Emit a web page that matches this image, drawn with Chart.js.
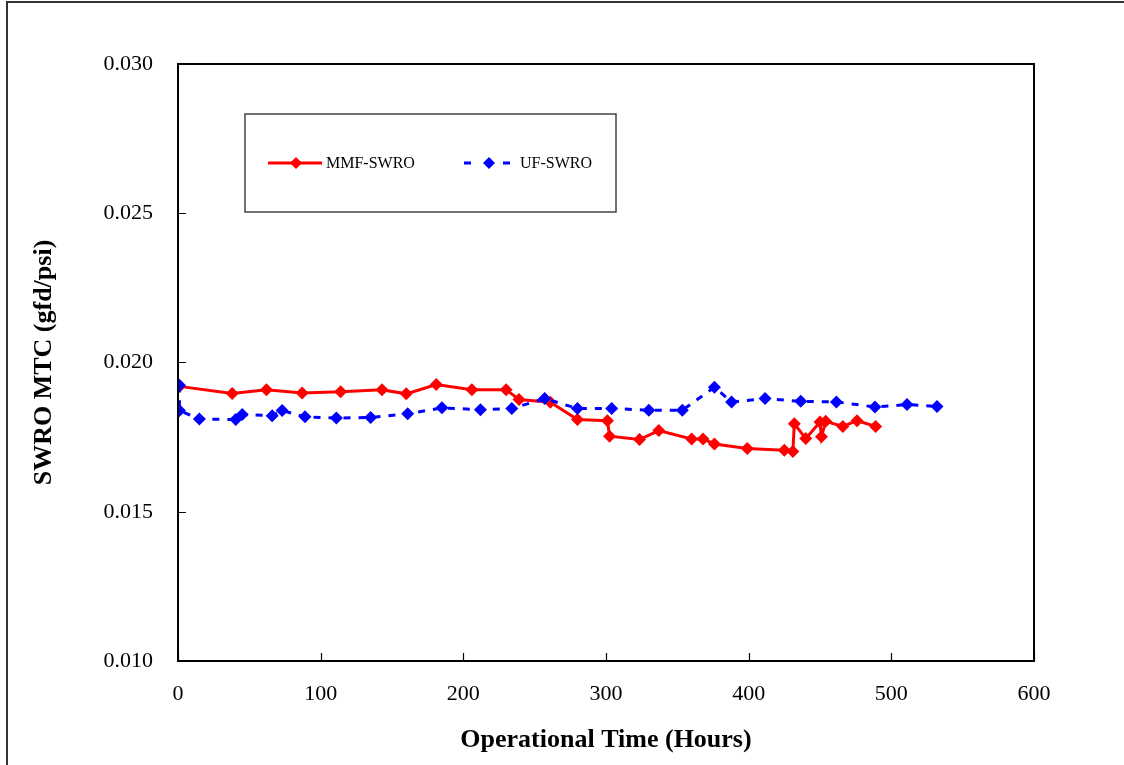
<!DOCTYPE html>
<html>
<head>
<meta charset="utf-8">
<script src="https://cdn.jsdelivr.net/npm/chart.js@4/dist/chart.umd.min.js"></script>
<style>
  html, body { margin: 0; padding: 0; background: #fff; }
  #wrap { width: 1124px; height: 765px; }
</style>
</head>
<body>
<div id="wrap"><canvas id="mtcChart" width="1124" height="765"></canvas></div>
<script>
// data
const mmfHours = [1, 38, 62, 87, 114, 143, 160, 181, 206, 230, 239, 261, 280, 301, 302.5, 323.5, 337, 360, 368, 376, 399, 425, 431, 432, 440, 450, 451, 454, 466, 476, 489];
const mmfMtc = [0.0192, 0.01896, 0.01909, 0.01898, 0.01902, 0.01909, 0.01895, 0.01926, 0.01909, 0.01909, 0.01876, 0.01867, 0.01809, 0.01805, 0.01753, 0.01742, 0.01772, 0.01744, 0.01744, 0.01727, 0.01712, 0.01706, 0.01702, 0.01795, 0.01745, 0.01801, 0.01751, 0.01803, 0.01786, 0.01805, 0.01786];
const ufHours = [1, 1, 15, 40.5, 45, 66, 73, 89, 111, 135, 161, 185, 212, 234, 257, 280, 304, 330, 353.5, 376, 388, 411.5, 436.5, 461.5, 488.5, 511, 532];
const ufMtc = [0.01924, 0.01839, 0.01811, 0.01809, 0.01826, 0.01822, 0.01839, 0.01818, 0.01814, 0.01816, 0.01828, 0.01848, 0.01842, 0.01846, 0.01879, 0.01846, 0.01846, 0.0184, 0.0184, 0.01917, 0.01868, 0.01879, 0.0187, 0.01868, 0.01851, 0.01859, 0.01853];
const xTicks = [0, 100, 200, 300, 400, 500, 600];
const yTicks = [0.010, 0.015, 0.020, 0.025, 0.030];
const seriesNames = ['MMF-SWRO', 'UF-SWRO'];

const RED = '#ff0000';
const BLUE = '#0000ff';
const FONT = '"Liberation Serif", "Times New Roman", serif';

function toPoints(xs, ys) {
  return xs.map(function (x, i) { return { x: x, y: ys[i] }; });
}

// frame, plot box, inward ticks and the boxed legend
const decorPlugin = {
  id: 'decor',
  afterDraw: function (chart) {
    const ctx = chart.ctx;
    const a = chart.chartArea;
    const xs = chart.scales.x, ys = chart.scales.y;
    ctx.save();

    // outer frame (left + top)
    ctx.strokeStyle = '#333';
    ctx.lineWidth = 2;
    ctx.beginPath();
    ctx.moveTo(7, 765);
    ctx.lineTo(7, 2);
    ctx.lineTo(1124, 2);
    ctx.stroke();

    // plot box
    ctx.strokeStyle = '#000';
    ctx.lineWidth = 2;
    ctx.strokeRect(a.left, a.top, a.right - a.left, a.bottom - a.top);

    // tick marks pointing inside
    ctx.lineWidth = 1.2;
    ctx.beginPath();
    yTicks.forEach(function (v) {
      const py = Math.round(ys.getPixelForValue(v)) + 0.5;
      ctx.moveTo(a.left, py);
      ctx.lineTo(a.left + 8, py);
    });
    xTicks.forEach(function (v) {
      const px = Math.round(xs.getPixelForValue(v)) + 0.5;
      ctx.moveTo(px, a.bottom);
      ctx.lineTo(px, a.bottom - 8);
    });
    ctx.stroke();

    // legend box
    const bx = a.left + 67, by = a.top + 50;
    ctx.strokeStyle = '#444';
    ctx.lineWidth = 1.5;
    ctx.strokeRect(bx, by, 371, 98);

    const ly = by + 49;
    ctx.font = '16px ' + FONT;
    ctx.fillStyle = '#000';
    ctx.textBaseline = 'middle';

    // MMF entry
    ctx.strokeStyle = RED;
    ctx.lineWidth = 3;
    ctx.beginPath();
    ctx.moveTo(bx + 23, ly);
    ctx.lineTo(bx + 77, ly);
    ctx.stroke();
    drawDiamond(ctx, bx + 51, ly, 6, RED);
    ctx.fillStyle = '#000';
    ctx.fillText(seriesNames[0], bx + 81, ly + 1);

    // UF entry
    ctx.strokeStyle = BLUE;
    ctx.lineWidth = 3;
    ctx.beginPath();
    ctx.moveTo(bx + 219, ly);
    ctx.lineTo(bx + 226, ly);
    ctx.moveTo(bx + 258, ly);
    ctx.lineTo(bx + 265, ly);
    ctx.stroke();
    drawDiamond(ctx, bx + 244, ly, 6, BLUE);
    ctx.fillStyle = '#000';
    ctx.fillText(seriesNames[1], bx + 275, ly + 1);

    ctx.restore();
  }
};

function drawDiamond(ctx, x, y, r, color) {
  ctx.fillStyle = color;
  ctx.beginPath();
  ctx.moveTo(x, y - r);
  ctx.lineTo(x + r, y);
  ctx.lineTo(x, y + r);
  ctx.lineTo(x - r, y);
  ctx.closePath();
  ctx.fill();
}

const ctx = document.getElementById('mtcChart').getContext('2d');
new Chart(ctx, {
  type: 'scatter',
  data: {
    datasets: [
      {
        label: seriesNames[0],
        data: toPoints(mmfHours, mmfMtc),
        showLine: true,
        borderColor: RED,
        backgroundColor: RED,
        borderWidth: 3,
        pointStyle: 'rectRot',
        pointRadius: 6.5,
        pointBorderWidth: 0,
        tension: 0,
        order: 2
      },
      {
        label: seriesNames[1],
        data: toPoints(ufHours, ufMtc),
        showLine: true,
        borderColor: BLUE,
        backgroundColor: BLUE,
        borderWidth: 3,
        borderDash: [7, 8],
        pointStyle: 'rectRot',
        pointRadius: 6.5,
        pointBorderWidth: 0,
        tension: 0,
        order: 1
      }
    ]
  },
  options: {
    responsive: false,
    animation: false,
    layout: { padding: { left: 0, right: 90, top: 64, bottom: 0 } },
    plugins: {
      legend: { display: false },
      tooltip: { enabled: false }
    },
    scales: {
      x: {
        type: 'linear',
        min: 0,
        max: 600,
        afterBuildTicks: function (scale) {
          scale.ticks = xTicks.map(function (v) { return { value: v }; });
        },
        afterFit: function (scale) { scale.height = 104; },
        grid: { display: false, drawTicks: false },
        border: { display: false },
        ticks: {
          padding: 20,
          color: '#000',
          font: { family: FONT, size: 22 },
          maxRotation: 0
        },
        title: {
          display: true,
          text: 'Operational Time (Hours)',
          color: '#000',
          font: { family: FONT, size: 26, weight: 'bold' },
          padding: { top: 0, bottom: 9 }
        }
      },
      y: {
        type: 'linear',
        min: 0.010,
        max: 0.030,
        afterBuildTicks: function (scale) {
          scale.ticks = yTicks.map(function (v) { return { value: v }; });
        },
        afterFit: function (scale) { scale.width = 178; },
        grid: { display: false, drawTicks: false },
        border: { display: false },
        ticks: {
          padding: 25,
          color: '#000',
          font: { family: FONT, size: 22 },
          callback: function (v) { return Number(v).toFixed(3); }
        },
        title: {
          display: true,
          text: 'SWRO MTC (gfd/psi)',
          color: '#000',
          font: { family: FONT, size: 26, weight: 'bold' },
          padding: { top: 29, bottom: 0 }
        }
      }
    }
  },
  plugins: [decorPlugin]
});
</script>
</body>
</html>
